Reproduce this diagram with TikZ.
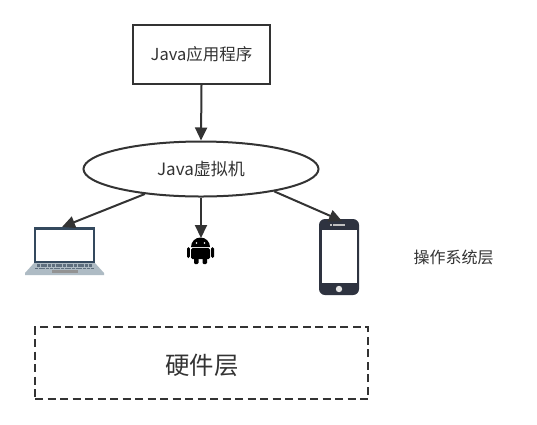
\documentclass[tikz,border=0pt]{standalone}
\usepackage{fontspec}
\setmainfont{Noto Sans CJK SC}
\usetikzlibrary{arrows.meta,shapes.geometric}
\definecolor{ink}{HTML}{333333}
\definecolor{laptopblue}{HTML}{34495E}
\definecolor{laptopgrey}{HTML}{AEBBC4}
\definecolor{keygrey}{HTML}{5E6E7E}
\definecolor{phonedark}{HTML}{2E3340}
\tikzset{
  conn/.style={draw=ink,line width=2pt,-{Triangle[length=13pt,width=12pt,fill=ink]}},
  frame/.style={draw=ink,line width=2pt,fill=white,inner sep=0pt,text=ink},
  icon/.style={inner sep=0pt,minimum width=#1,draw=none},
  lbl/.style={text=ink,inner sep=0pt,font=\fontsize{16}{18}\selectfont}
}
\begin{document}
\begin{tikzpicture}[x=1pt,y=-1pt]
\useasboundingbox (0,0) rectangle (537,424);
\fill[white] (0,0) rectangle (537,424);

% laptop
\fill[laptopgrey] (34,263) -- (95,263) -- (104,273) -- (104,275) -- (25,275) -- (25,273) -- cycle;
\fill[laptopblue] (34,227) rectangle (95,263);
\fill[white] (36,230) rectangle (93,261);
\draw[keygrey,line width=2.4pt,dash pattern=on 3pt off 0.7pt] (37,265.5) -- (92,265.5);
\draw[keygrey,line width=1.6pt,dash pattern=on 3pt off 0.7pt] (35,268.5) -- (94,268.5);
\fill[gray!85] (52,269.5) rectangle (78,273);

% phone
\fill[phonedark,rounded corners=6pt] (319,219) rectangle (359,295);
\fill[white] (321.5,229.5) rectangle (356.5,283);
\fill[gray!50] (333,224) rectangle (345,226);
\fill[gray!50] (329.5,224) rectangle (331.5,226);
\fill[gray!20] (339,289) circle (3.2);

% android
\fill[black] (191,247) arc (180:360:9.5) -- cycle;
\fill[black,rounded corners=1.5pt] (191,248) rectangle (210,259);
\fill[black,rounded corners=1.5pt] (187,247) rectangle (189.8,258);
\fill[black,rounded corners=1.5pt] (211.2,247) rectangle (214,258);
\fill[black,rounded corners=1.2pt] (194,256) rectangle (198.5,264);
\fill[black,rounded corners=1.2pt] (202.5,256) rectangle (207,264);
\fill[white] (196.5,243) circle (.9) (204.5,243) circle (.9);

% nodes
\node[frame,rectangle,minimum width=137pt,minimum height=59pt,font=\fontsize{16.5}{18}\selectfont] (app) at (201.5,54.5) {Java应用程序};
\node[frame,ellipse,minimum width=235pt,minimum height=55pt,font=\fontsize{17}{19}\selectfont] (jvm) at (201,169) {Java虚拟机};
\node[draw=ink,line width=1.6pt,dash pattern=on 8pt off 4.5pt,rectangle,minimum width=333pt,minimum height=72pt,inner sep=0pt] (hw) at (201.5,363) {};
\node[text=ink,inner sep=0pt,font=\fontsize{24.4}{28}\selectfont] (hwtext) at (202,365) {硬件层};
\node[lbl] (os) at (453.5,257) {操作系统层};
\node[icon=1pt] (laptop) at (62,227) {};
\node[icon=1pt] (android) at (201,238) {};
\node[icon=1pt] (phone) at (342,221) {};

% connectors
\draw[conn] (app.south) -- (jvm.north);
\draw[conn] (jvm.south) -- (android.center);
\draw[conn] (jvm.204) -- (laptop.center);
\draw[conn] (jvm.-17) -- (phone.center);
\end{tikzpicture}
\end{document}
